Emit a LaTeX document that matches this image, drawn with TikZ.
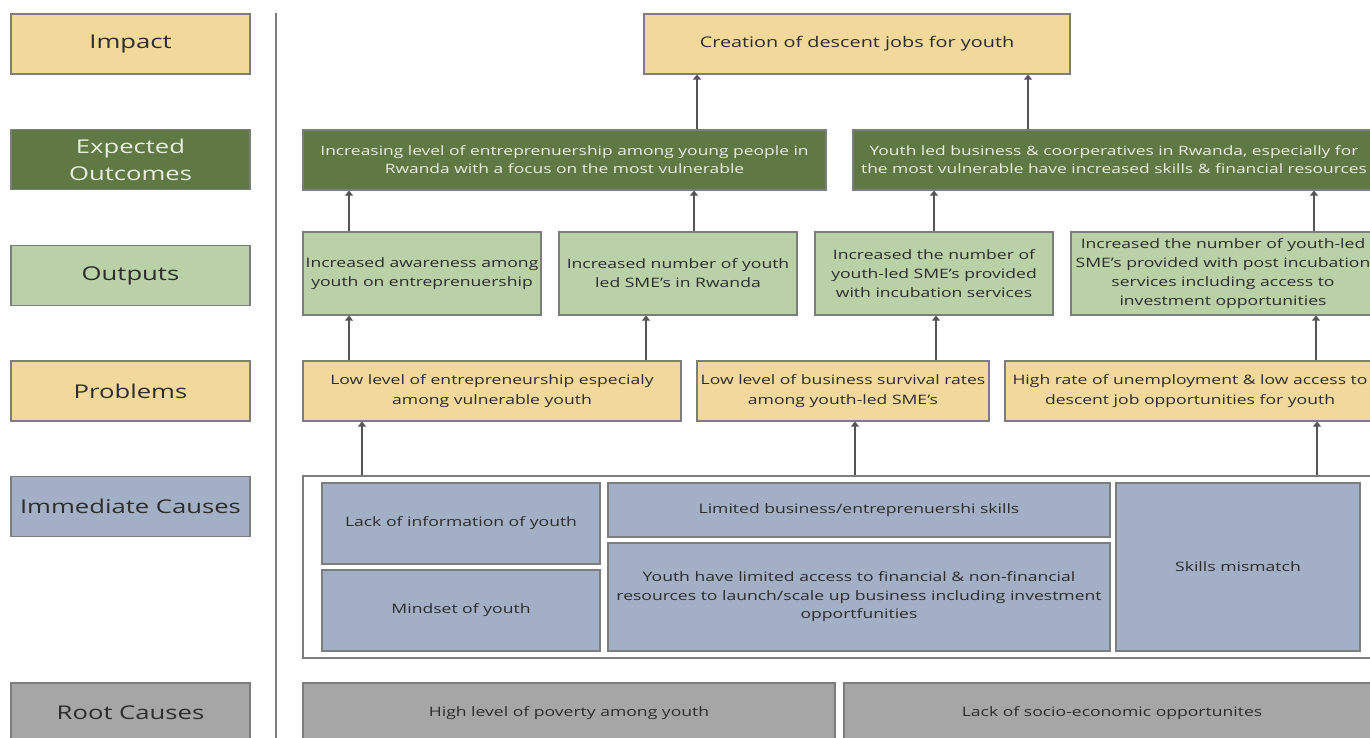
\documentclass[tikz,border=0pt]{standalone}
\usepackage{fontspec}
\setmainfont{Open Sans}[FakeStretch=1.35]
\usepackage{xcolor}
\definecolor{impactyellow}{RGB}{242, 217, 155}
\definecolor{outcomegreen}{RGB}{96, 120, 68}
\definecolor{outputgreen}{RGB}{186, 208, 167}
\definecolor{causeblue}{RGB}{163, 175, 196}
\definecolor{rootgray}{RGB}{166, 166, 166}
\definecolor{edgegray}{RGB}{125, 125, 125}
\definecolor{arrowgray}{RGB}{85, 85, 85}
\definecolor{textdark}{RGB}{45, 45, 45}
\definecolor{textlight}{RGB}{232, 237, 224}
\usepackage{tikz}
\usetikzlibrary{
    arrows.meta,
    positioning
}
\tikzstyle{box} = [
    rectangle,
    draw=edgegray,
    line width=1.2pt,
    text centered,
    align=center,
    inner sep=2pt,
    text=textdark,
    font=\fontsize{13}{19}\selectfont
]
\tikzstyle{rowname} = [
    box,
    minimum width=239pt,
    minimum height=60pt
]
\tikzstyle{yellowbox} = [box, fill=impactyellow]
\tikzstyle{darkbox} = [box, fill=outcomegreen, text=textlight]
\tikzstyle{greenbox} = [box, fill=outputgreen]
\tikzstyle{bluebox} = [box, fill=causeblue]
\tikzstyle{graybox} = [box, fill=rootgray]
\tikzstyle{arrow} = [
    line width=2.5pt,
    draw=arrowgray,
    -{Triangle[width=8pt,length=5pt]}
]

\begin{document}
\begin{tikzpicture}[x=1pt, y=-1pt]

\useasboundingbox (0,0) rectangle (1370,738);
\clip (0,0) rectangle (1370,738);
\fill[white] (0,0) rectangle (1370,738);

% row names on the left
\node (nimpact) [rowname, yellowbox, font=\fontsize{19}{27}\selectfont] at (130.5,44) {Impact};
\node (noutcome) [rowname, darkbox, font=\fontsize{19}{27}\selectfont] at (130.5,159.5) {Expected\\Outcomes};
\node (noutput) [rowname, greenbox, font=\fontsize{19}{27}\selectfont] at (130.5,275.5) {Outputs};
\node (nproblem) [rowname, yellowbox, font=\fontsize{19}{27}\selectfont] at (130.5,391) {Problems};
\node (nimmediate) [rowname, bluebox, font=\fontsize{19}{27}\selectfont] at (130.5,506.5) {Immediate Causes};
\node (nroot) [rowname, graybox, font=\fontsize{19}{27}\selectfont] at (130.5,713) {Root Causes};

\draw [edgegray, line width=1.5pt] (276,13) -- (276,738);

% impact
\node (impact) [yellowbox, font=\fontsize{14.7}{19}\selectfont, minimum width=426pt, minimum height=60pt] at (857,44)
    {Creation of descent jobs for youth};

% expected outcomes
\node (oc1) [darkbox, font=\fontsize{12.9}{18}\selectfont, minimum width=523pt, minimum height=60pt] at (564.5,160)
    {Increasing level of entreprenuership among young people in\\Rwanda with a focus on the most vulnerable};
\node (oc2) [darkbox, font=\fontsize{12.9}{18}\selectfont, minimum width=522pt, minimum height=60pt] at (1114,160)
    {Youth led business \& coorperatives in Rwanda, especially for\\the most vulnerable have increased skills \& financial resources};

% outputs
\node (out1) [greenbox, minimum width=238pt, minimum height=83pt] at (422,273.5)
    {Increased awareness among\\youth on entreprenuership};
\node (out2) [greenbox, minimum width=238pt, minimum height=83pt] at (678,273.5)
    {Increased number of youth\\led SME’s in Rwanda};
\node (out3) [greenbox, minimum width=238pt, minimum height=83pt] at (934,273.5)
    {Increased the number of\\youth-led SME’s provided\\with incubation services};
\node (out4) [greenbox, minimum width=304pt, minimum height=83pt] at (1223,273.5)
    {Increased the number of youth-led\\SME’s provided with post incubation\\services including access to\\investment opportunities};

% problems
\node (prob1) [yellowbox, font=\fontsize{13}{20}\selectfont, minimum width=378pt, minimum height=60pt] at (492,391)
    {Low level of entrepreneurship especialy\\among vulnerable youth};
\node (prob2) [yellowbox, font=\fontsize{13}{20}\selectfont, minimum width=292pt, minimum height=60pt] at (843,391)
    {Low level of business survival rates\\among youth-led SME’s};
\node (prob3) [yellowbox, font=\fontsize{13}{20}\selectfont, minimum width=370pt, minimum height=60pt] at (1190,391)
    {High rate of unemployment \& low access to\\descent job opportunities for youth};

% immediate causes
\node (imm) [box, fill=white, minimum width=1082pt, minimum height=182pt] at (844,567) {};
\node (cinfo) [bluebox, minimum width=278pt, minimum height=81pt] at (461,523.5)
    {Lack of information of youth};
\node (cmind) [bluebox, minimum width=278pt, minimum height=81pt] at (461,610.5)
    {Mindset of youth};
\node (cskill) [bluebox, minimum width=502pt, minimum height=54pt] at (859,510)
    {Limited business/entreprenuershi skills};
\node (caccess) [bluebox, font=\fontsize{13}{18.5}\selectfont, minimum width=502pt, minimum height=108pt] at (859,597)
    {Youth have limited access to financial \& non-financial\\resources to launch/scale up business including investment\\opportfunities};
\node (cmatch) [bluebox, minimum width=244pt, minimum height=168pt] at (1238,567)
    {Skills mismatch};

% root causes
\node (root1) [graybox, minimum width=532pt, minimum height=60pt] at (569,713)
    {High level of poverty among youth};
\node (root2) [graybox, minimum width=536pt, minimum height=60pt] at (1112,713)
    {Lack of socio-economic opportunites};

% arrows up the chain
\draw [arrow] ([xshift=-73pt]out1.north) -- ([xshift=-73pt]out1.north |- oc1.south);
\draw [arrow] ([xshift=16pt]out2.north) -- ([xshift=16pt]out2.north |- oc1.south);
\draw [arrow] (out3.north) -- (out3.north |- oc2.south);
\draw [arrow] ([xshift=91pt]out4.north) -- ([xshift=91pt]out4.north |- oc2.south);
\draw [arrow] ([xshift=132.5pt]oc1.north) -- ([xshift=132.5pt]oc1.north |- impact.south);
\draw [arrow] ([xshift=-86pt]oc2.north) -- ([xshift=-86pt]oc2.north |- impact.south);
\draw [arrow] ([xshift=-143pt]prob1.north) -- ([xshift=-143pt]prob1.north |- out1.south);
\draw [arrow] ([xshift=154pt]prob1.north) -- ([xshift=154pt]prob1.north |- out2.south);
\draw [arrow] ([xshift=93pt]prob2.north) -- ([xshift=93pt]prob2.north |- out3.south);
\draw [arrow] ([xshift=126pt]prob3.north) -- ([xshift=126pt]prob3.north |- out4.south);
\draw [arrow] ([xshift=-130pt]prob1.south |- imm.north) -- ([xshift=-130pt]prob1.south);
\draw [arrow] ([xshift=12pt]prob2.south |- imm.north) -- ([xshift=12pt]prob2.south);
\draw [arrow] ([xshift=127pt]prob3.south |- imm.north) -- ([xshift=127pt]prob3.south);

\end{tikzpicture}
\end{document}
